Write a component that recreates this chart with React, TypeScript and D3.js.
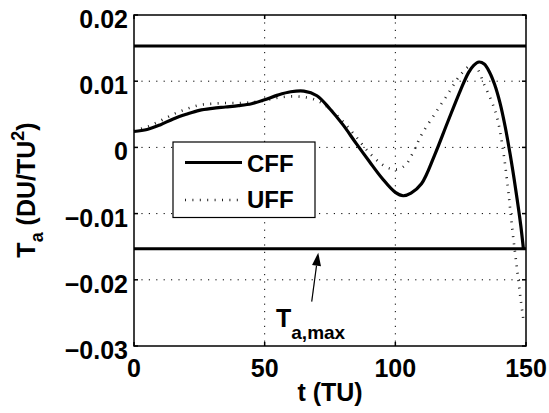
import React from "react";
import * as d3 from "d3";

// Time samples (TU) and thrust acceleration (DU/TU^2) for each feedback scheme
const cffT = [0, 5, 10, 15, 20, 25, 30, 35, 40, 45, 50, 55, 60, 65, 70, 75, 80, 85, 90, 95, 100, 103, 106, 110, 115, 120, 125, 128, 130, 132, 134, 136, 138, 140, 142, 144, 146, 148, 149];
const cffA = [0.0024, 0.0027, 0.0034, 0.0043, 0.005, 0.0056, 0.0059, 0.0061, 0.0063, 0.0066, 0.0072, 0.0079, 0.0084, 0.0085, 0.0078, 0.0058, 0.0034, 0.0006, -0.0021, -0.0047, -0.0068, -0.0073, -0.0069, -0.0055, -0.0012, 0.0038, 0.0087, 0.0113, 0.0124, 0.0129, 0.0126, 0.0114, 0.0095, 0.0068, 0.0032, -0.0012, -0.0062, -0.0118, -0.0153];

const uffT = [0, 5, 10, 15, 20, 25, 30, 35, 40, 45, 50, 55, 60, 65, 70, 75, 80, 85, 90, 95, 98, 101, 104, 107, 110, 115, 120, 125, 129, 131, 134, 137, 139, 141, 143, 144, 145, 146, 147, 148, 149];
const uffA = [0.0025, 0.0031, 0.004, 0.005, 0.0058, 0.0064, 0.0066, 0.0067, 0.0067, 0.0068, 0.0071, 0.0075, 0.0077, 0.0076, 0.0071, 0.0058, 0.0039, 0.0016, -0.0008, -0.0026, -0.0032, -0.0033, -0.0026, -0.0006, 0.0019, 0.005, 0.008, 0.011, 0.0124, 0.0121, 0.0095, 0.0068, 0.0044, 0.0002, -0.0058, -0.0095, -0.0132, -0.0165, -0.0198, -0.0231, -0.026];

// Thrust acceleration limit
const taMax = 0.0153;

const xTicks = [0, 50, 100, 150];
const yTicks = [0.02, 0.01, 0, -0.01, -0.02, -0.03];
const yTickLabels = ["0.02", "0.01", "0", "\u22120.01", "\u22120.02", "\u22120.03"];

const W = 549;
const H = 413;
const M = { left: 134, right: 526, top: 15, bottom: 346 };
const FONT = "'Liberation Sans', Arial, Helvetica, sans-serif";

export default function App() {
  const x = d3.scaleLinear().domain([0, 150]).range([M.left, M.right]);
  const y = d3.scaleLinear().domain([-0.03, 0.02]).range([M.bottom, M.top]);

  const line = d3
    .line<[number, number]>()
    .x((d) => x(d[0]))
    .y((d) => y(d[1]))
    .curve(d3.curveCatmullRom.alpha(0.5));

  const cff = line(cffT.map((t, i) => [t, cffA[i]]) as [number, number][]) || "";
  const uff = line(uffT.map((t, i) => [t, uffA[i]]) as [number, number][]) || "";

  // Arrow pointing to the lower limit line
  const arrowTipX = x(70.5);
  const arrowTipY = y(-taMax) + 4;
  const arrowTailX = x(68);
  const arrowTailY = y(-0.0233);
  const ang = Math.atan2(arrowTipY - arrowTailY, arrowTipX - arrowTailX);
  const headLen = 13;
  const headW = 4.5;
  const bx = arrowTipX - headLen * Math.cos(ang);
  const by = arrowTipY - headLen * Math.sin(ang);
  const head = `M${arrowTipX},${arrowTipY} L${bx + headW * Math.sin(ang)},${by - headW * Math.cos(ang)} L${bx - headW * Math.sin(ang)},${by + headW * Math.cos(ang)} Z`;

  const gridDash = "1.2,6.2";

  return (
    <svg width={W} height={H} style={{ position: "absolute", left: 0, top: 0, background: "#fff" }} fontFamily={FONT} fontWeight="bold">
      {/* grid */}
      {xTicks.filter((t) => t > 0 && t < 150).map((t) => (
        <line key={"gx" + t} x1={x(t)} x2={x(t)} y1={M.top} y2={M.bottom} stroke="#000" strokeWidth={1} strokeDasharray={gridDash} />
      ))}
      {yTicks.filter((v) => v < 0.02 && v > -0.03).map((v) => (
        <line key={"gy" + v} x1={M.left} x2={M.right} y1={y(v)} y2={y(v)} stroke="#000" strokeWidth={1} strokeDasharray={gridDash} />
      ))}

      {/* limit lines */}
      <line x1={x(0)} x2={x(150)} y1={y(taMax)} y2={y(taMax)} stroke="#000" strokeWidth={3} />
      <line x1={x(0)} x2={x(150)} y1={y(-taMax)} y2={y(-taMax)} stroke="#000" strokeWidth={3} />

      {/* series */}
      <path d={uff} fill="none" stroke="#222" strokeWidth={2.6} strokeDasharray="1,6.4" />
      <path d={cff} fill="none" stroke="#000" strokeWidth={3.2} strokeLinejoin="round" />

      {/* axes box and ticks */}
      <rect x={M.left} y={M.top} width={M.right - M.left} height={M.bottom - M.top} fill="none" stroke="#000" strokeWidth={1.5} />
      {xTicks.map((t) => (
        <g key={"tx" + t}>
          <line x1={x(t)} x2={x(t)} y1={M.bottom} y2={M.bottom - 4} stroke="#000" strokeWidth={1.5} />
          <line x1={x(t)} x2={x(t)} y1={M.top} y2={M.top + 4} stroke="#000" strokeWidth={1.5} />
          <text x={x(t)} y={376.5} fontSize={25} textAnchor="middle">{t}</text>
        </g>
      ))}
      {yTicks.map((v, i) => (
        <g key={"ty" + v}>
          <line x1={M.left} x2={M.left + 4} y1={y(v)} y2={y(v)} stroke="#000" strokeWidth={1.5} />
          <line x1={M.right} x2={M.right - 4} y1={y(v)} y2={y(v)} stroke="#000" strokeWidth={1.5} />
          <text x={M.left - 6} y={y(v) + 13} fontSize={25} textAnchor="end">{yTickLabels[i]}</text>
        </g>
      ))}

      {/* axis labels */}
      <text x={(M.left + M.right) / 2} y={401} fontSize={25} textAnchor="middle">t (TU)</text>
      <text transform="translate(35,190) rotate(-90)" fontSize={25} textAnchor="middle">
        T<tspan fontSize={18} dy={8}>a</tspan>
        <tspan dy={-8}> (DU/TU</tspan>
        <tspan fontSize={18} dy={-11}>2</tspan>
        <tspan dy={11}>)</tspan>
      </text>

      {/* legend */}
      <rect x={173} y={142} width={142} height={75.5} fill="#fff" stroke="#000" strokeWidth={1.2} />
      <line x1={185} x2={242} y1={162.5} y2={162.5} stroke="#000" strokeWidth={3.2} />
      <text x={247} y={171.5} fontSize={24}>CFF</text>
      <line x1={185} x2={242} y1={200} y2={200} stroke="#222" strokeWidth={2.6} strokeDasharray="1,6.4" />
      <text x={247} y={208} fontSize={24}>UFF</text>

      {/* limit annotation */}
      <line x1={arrowTailX} y1={arrowTailY} x2={bx} y2={by} stroke="#000" strokeWidth={1.2} />
      <path d={head} fill="#000" />
      <text x={276} y={327} fontSize={25}>
        T<tspan fontSize={19} dy={12}>a,max</tspan>
      </text>
    </svg>
  );
}
